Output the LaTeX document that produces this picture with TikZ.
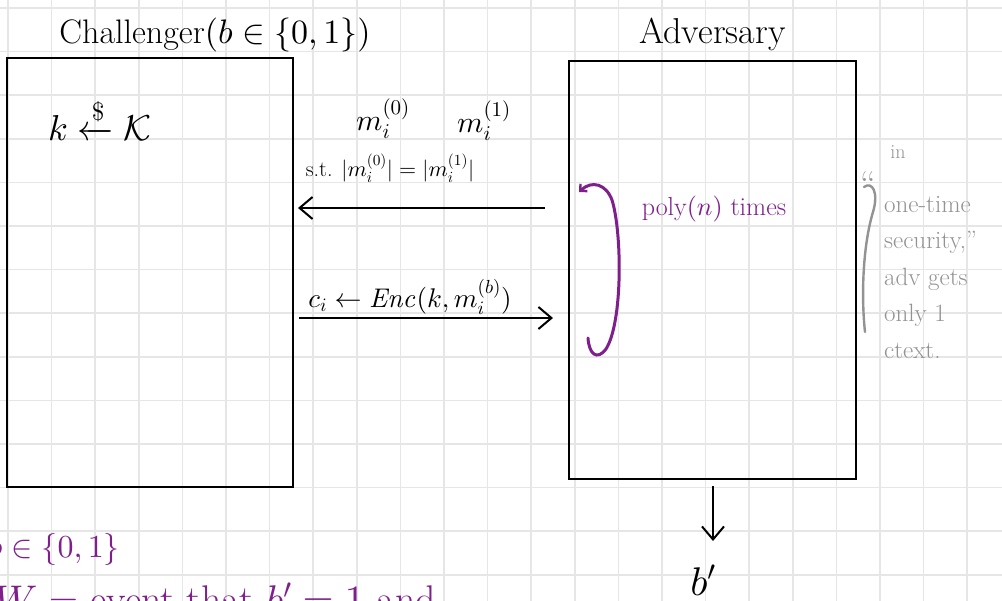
\documentclass[tikz,border=0pt]{standalone}
\usepackage{amsmath}
\usetikzlibrary{positioning, arrows.meta}

% scalable math fonts
\DeclareFontShape{OML}{cmm}{m}{it}{<->cmmi10}{}
\DeclareFontShape{OMS}{cmsy}{m}{n}{<->cmsy10}{}
\DeclareFontShape{OT1}{cmr}{m}{n}{<->cmr10}{}
\DeclareFontShape{OT1}{cmr}{m}{it}{<->cmti10}{}
\DeclareFontShape{OMX}{cmex}{m}{n}{<->cmex10}{}

\definecolor{inkpurple}{HTML}{7F1F8C}
\definecolor{pencil}{HTML}{939393}
\definecolor{gridgray}{HTML}{E6E6E6}

\begin{document}
\begin{tikzpicture}[
    x=1pt, y=-1pt,
    party/.style={
        rectangle,
        draw=black, line width=2pt,
        inner sep=0pt
    },
    hand/.style={inner sep=0pt, font=\fontsize{#1}{#1}\selectfont},
    gridline/.style={gridgray, line width=1.6pt},
    msgarrow/.style={-{Straight Barb[length=13pt, width=22pt, line width=2pt]}, line width=2pt},
    loopline/.style={inkpurple, line width=3pt, line cap=round},
    pencilline/.style={pencil, line width=2.4pt, line cap=round}
]

% Paper
\fill[white] (0,0) rectangle (1002,601);
\useasboundingbox (0,0) rectangle (1002,601);
\foreach \i in {0,...,22}
    \draw[gridline] ({8+43.6*\i},0) -- ({8+43.6*\i},601);
\foreach \j in {0,...,13}
    \draw[gridline] (0,{8+43.6*\j}) -- (1002,{8+43.6*\j});

% Challenger
\node[party, minimum width=286pt, minimum height=429pt] (chal) at (150,272.5) {};
\node[hand=34, above=5pt of chal.north, xshift=65pt] (chaltitle) {Challenger$(b\in\{0,1\})$};
\node[hand=36] (keygen) at (100,119) {$k \xleftarrow{\$} \mathcal{K}$};

% Adversary
\node[party, minimum width=287pt, minimum height=418pt] (adv) at (712.5,270) {};
\node[hand=36, above=9pt of adv.north] (advtitle) {Adversary};

% Query
\node[hand=30] (mzero) at (383,119) {$m_i^{(0)}$};
\node[hand=30] (mone) at (484,121) {$m_i^{(1)}$};
\node[hand=22] (samelen) at (390,168) {s.t. $|m_i^{(0)}| = |m_i^{(1)}|$};
\coordinate (query) at (545,208);
\draw[msgarrow, shorten >=4pt] (query) -- (chal.east |- query);

% Answer
\node[hand=27] (enc) at (410,297) {$c_i \leftarrow \mathit{Enc}(k, m_i^{(b)})$};
\coordinate (answer) at (553,318);
\draw[msgarrow, shorten <=5pt] (chal.east |- answer) -- (answer);

% Repeat
\draw[loopline, -{Straight Barb[length=5pt, width=10pt, line width=2.4pt]}]
    (588,338) .. controls (589,354) and (597,361) .. (606,349)
    .. controls (623,322) and (622,232) .. (612,200)
    .. controls (606,184) and (592,180) .. (579,192);
\node[hand=26, text=inkpurple] (repeat) at (714,209) {poly$(n)$ times};

% One-time note
\draw[pencilline] (864,187) .. controls (872,181) and (879,192) .. (873,212)
    .. controls (863,245) and (861,295) .. (865,332);
\node[hand=20, text=pencil] (notein) at (898,152) {in};
\node[hand=36, text=pencil] (openq) at (868,184) {``};
\node[hand=25, text=pencil, align=left, anchor=north west,
      font=\fontsize{25}{36.5}\selectfont] (note) at (884,196)
    {one-time\\security,''\\adv gets\\only 1\\ctext.};

% Output
\node[hand=40] (guess) at (703,580) {$b'$};
\coordinate (guessend) at (713,541);
\draw[msgarrow, shorten <=6pt] (adv.south -| guessend) -- (guessend);

% Bottom notes
\node[hand=32, text=inkpurple, anchor=east] (bits) at (120,550) {$b\in\{0,1\}$};
\node[hand=40, text=inkpurple, anchor=base west] (event) at (-6,613) {$W$ = event that $b'=1$ and};

\end{tikzpicture}
\end{document}
